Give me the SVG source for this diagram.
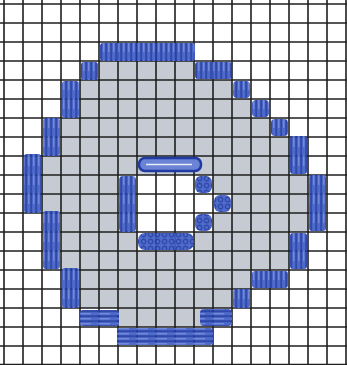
<svg xmlns="http://www.w3.org/2000/svg" width="347" height="365" viewBox="0 0 347 365">
  <defs>
    <pattern id="pv" width="5" height="19" patternUnits="userSpaceOnUse">
      <rect width="5" height="19" fill="#3f5ec6"/>
      <line x1="1.2" y1="0" x2="1.2" y2="19" stroke="#1f3aa3" stroke-width="2"/>
      <line x1="3.8" y1="3" x2="3.8" y2="14" stroke="#8fa4e4" stroke-width="0.7"/>
    </pattern>
    <pattern id="ph" width="19" height="5" patternUnits="userSpaceOnUse">
      <rect width="19" height="5" fill="#3f5ec6"/>
      <line x1="0" y1="1.2" x2="19" y2="1.2" stroke="#1f3aa3" stroke-width="2"/>
      <line x1="3" y1="3.8" x2="15" y2="3.8" stroke="#8fa4e4" stroke-width="0.7"/>
    </pattern>
    <pattern id="pb" width="7" height="7" patternUnits="userSpaceOnUse">
      <rect width="7" height="7" fill="#3f5ec6"/>
      <circle cx="3.5" cy="3.5" r="2.2" fill="none" stroke="#1f3aa3" stroke-width="1.4"/>
    </pattern>
  </defs>
  <style>
    .g{fill:#c6cad2}
    .grid line{stroke:#1e1e1e;stroke-width:1.6}
    .v{fill:url(#pv);opacity:0.92}
    .h{fill:url(#ph);opacity:0.92}
    .b{fill:url(#pb);opacity:0.92}
  </style>
  <rect width="347" height="365" fill="#ffffff"/>
  <g id="annulus-fill">
    <rect class="g" x="99" y="61" width="95" height="19"/>
    <rect class="g" x="80" y="80" width="152" height="19"/>
    <rect class="g" x="80" y="99" width="171" height="19"/>
    <rect class="g" x="61" y="118" width="209" height="19"/>
    <rect class="g" x="61" y="137" width="228" height="19"/>
    <rect class="g" x="42" y="156" width="247" height="19"/>
    <rect class="g" x="42" y="175" width="76" height="19"/>
    <rect class="g" x="213" y="175" width="95" height="19"/>
    <rect class="g" x="42" y="194" width="76" height="19"/>
    <rect class="g" x="232" y="194" width="76" height="19"/>
    <rect class="g" x="61" y="213" width="57" height="19"/>
    <rect class="g" x="213" y="213" width="95" height="19"/>
    <rect class="g" x="61" y="232" width="76" height="19"/>
    <rect class="g" x="194" y="232" width="95" height="19"/>
    <rect class="g" x="61" y="251" width="228" height="19"/>
    <rect class="g" x="80" y="270" width="171" height="19"/>
    <rect class="g" x="80" y="289" width="152" height="19"/>
    <rect class="g" x="118" y="308" width="95" height="19"/>
  </g>
  <g id="grid" class="grid">
    <line x1="4" y1="0" x2="4" y2="365"/>
    <line x1="23" y1="0" x2="23" y2="365"/>
    <line x1="42" y1="0" x2="42" y2="365"/>
    <line x1="61" y1="0" x2="61" y2="365"/>
    <line x1="80" y1="0" x2="80" y2="365"/>
    <line x1="99" y1="0" x2="99" y2="365"/>
    <line x1="118" y1="0" x2="118" y2="365"/>
    <line x1="137" y1="0" x2="137" y2="365"/>
    <line x1="156" y1="0" x2="156" y2="365"/>
    <line x1="175" y1="0" x2="175" y2="365"/>
    <line x1="194" y1="0" x2="194" y2="365"/>
    <line x1="213" y1="0" x2="213" y2="365"/>
    <line x1="232" y1="0" x2="232" y2="365"/>
    <line x1="251" y1="0" x2="251" y2="365"/>
    <line x1="270" y1="0" x2="270" y2="365"/>
    <line x1="289" y1="0" x2="289" y2="365"/>
    <line x1="308" y1="0" x2="308" y2="365"/>
    <line x1="327" y1="0" x2="327" y2="365"/>
    <line x1="346" y1="0" x2="346" y2="365"/>
    <line x1="0" y1="4" x2="347" y2="4"/>
    <line x1="0" y1="23" x2="347" y2="23"/>
    <line x1="0" y1="42" x2="347" y2="42"/>
    <line x1="0" y1="61" x2="347" y2="61"/>
    <line x1="0" y1="80" x2="347" y2="80"/>
    <line x1="0" y1="99" x2="347" y2="99"/>
    <line x1="0" y1="118" x2="347" y2="118"/>
    <line x1="0" y1="137" x2="347" y2="137"/>
    <line x1="0" y1="156" x2="347" y2="156"/>
    <line x1="0" y1="175" x2="347" y2="175"/>
    <line x1="0" y1="194" x2="347" y2="194"/>
    <line x1="0" y1="213" x2="347" y2="213"/>
    <line x1="0" y1="232" x2="347" y2="232"/>
    <line x1="0" y1="251" x2="347" y2="251"/>
    <line x1="0" y1="270" x2="347" y2="270"/>
    <line x1="0" y1="289" x2="347" y2="289"/>
    <line x1="0" y1="308" x2="347" y2="308"/>
    <line x1="0" y1="327" x2="347" y2="327"/>
    <line x1="0" y1="346" x2="347" y2="346"/>
    <line x1="0" y1="364.5" x2="347" y2="364.5"/>
  </g>
  <g id="outer-boundary">
    <rect class="v" x="100" y="43" width="95" height="18" rx="3"/>
    <rect class="v" x="81" y="62" width="17" height="18" rx="3"/>
    <rect class="v" x="62" y="81" width="17" height="37" rx="3"/>
    <rect class="v" x="43" y="118" width="17" height="38" rx="3"/>
    <rect class="v" x="24" y="154" width="17" height="59" rx="3"/>
    <rect class="v" x="43" y="211" width="17" height="58" rx="3"/>
    <rect class="v" x="62" y="268" width="17" height="40" rx="3"/>
    <rect class="h" x="80" y="310" width="39" height="16" rx="3"/>
    <rect class="h" x="117" y="328" width="96" height="17" rx="3"/>
    <rect class="v" x="195" y="62" width="37" height="17" rx="3"/>
    <rect class="v" x="233" y="81" width="17" height="17" rx="4"/>
    <rect class="v" x="252" y="100" width="17" height="17" rx="4"/>
    <rect class="v" x="271" y="119" width="17" height="17" rx="4"/>
    <rect class="v" x="290" y="136" width="17" height="38" rx="3"/>
    <rect class="v" x="309" y="175" width="17" height="56" rx="3"/>
    <rect class="v" x="290" y="233" width="17" height="36" rx="3"/>
    <rect class="v" x="252" y="271" width="36" height="17" rx="3"/>
    <rect class="v" x="233" y="289" width="17" height="19" rx="3"/>
    <rect class="h" x="200" y="309" width="32" height="17" rx="4"/>
  </g>
  <g id="inner-boundary">
    <rect x="139" y="158" width="62" height="13" rx="6" fill="#6a83d4" stroke="#1f3aa3" stroke-width="2.5"/>
    <line x1="146" y1="164.5" x2="192" y2="164.5" stroke="#e8ecf8" stroke-width="1.5"/>
    <rect class="v" x="119" y="176" width="17" height="56" rx="4"/>
    <rect class="b" x="195" y="176" width="17" height="17" rx="6"/>
    <rect class="b" x="214" y="195" width="17" height="17" rx="6"/>
    <rect class="b" x="195" y="214" width="17" height="17" rx="6"/>
    <rect class="b" x="138" y="233" width="56" height="17" rx="7"/>
  </g>
</svg>
